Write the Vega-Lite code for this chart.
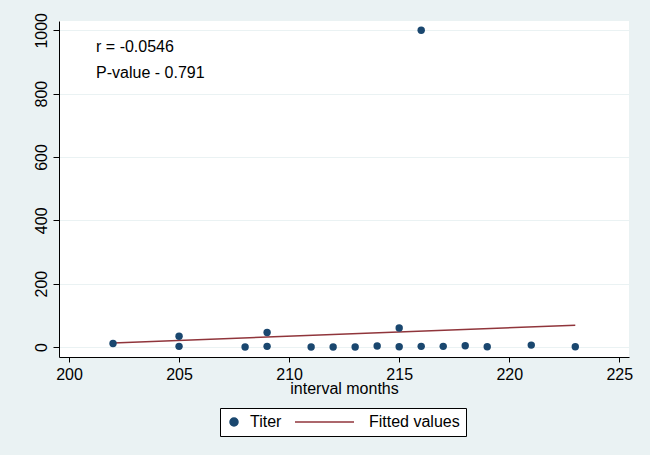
{
  "$schema": "https://vega.github.io/schema/vega-lite/v6.json",
  "width": 570,
  "height": 336,
  "autosize": {"type": "none"},
  "padding": {"left": 59, "top": 21, "right": 21, "bottom": 98},
  "background": "#eaf2f3",
  "config": {
    "font": "Liberation Sans",
    "view": {"fill": "white", "stroke": null}
  },
  "datasets": {
    "titer": [
      {"months": 202, "titer": 11, "series": "Titer"},
      {"months": 205, "titer": 34, "series": "Titer"},
      {"months": 205, "titer": 2, "series": "Titer"},
      {"months": 208, "titer": 0, "series": "Titer"},
      {"months": 209, "titer": 46, "series": "Titer"},
      {"months": 209, "titer": 2, "series": "Titer"},
      {"months": 211, "titer": 0, "series": "Titer"},
      {"months": 212, "titer": 0, "series": "Titer"},
      {"months": 213, "titer": 0, "series": "Titer"},
      {"months": 214, "titer": 3, "series": "Titer"},
      {"months": 215, "titer": 60, "series": "Titer"},
      {"months": 215, "titer": 1, "series": "Titer"},
      {"months": 216, "titer": 1000, "series": "Titer"},
      {"months": 216, "titer": 2, "series": "Titer"},
      {"months": 217, "titer": 2, "series": "Titer"},
      {"months": 218, "titer": 4, "series": "Titer"},
      {"months": 219, "titer": 1, "series": "Titer"},
      {"months": 221, "titer": 6, "series": "Titer"},
      {"months": 223, "titer": 1, "series": "Titer"}
    ],
    "fit": [
      {"months": 202, "titer": 13, "series": "Fitted values"},
      {"months": 223, "titer": 69, "series": "Fitted values"}
    ],
    "notes": [
      {"months": 201.23, "titer": 946, "label": "r = -0.0546"},
      {"months": 201.23, "titer": 864, "label": "P-value - 0.791"}
    ]
  },
  "encoding": {
    "x": {
      "field": "months",
      "type": "quantitative",
      "scale": {"domain": [199.546, 225.44], "nice": false, "zero": false},
      "axis": {
        "values": [200, 205, 210, 215, 220, 225],
        "format": "d",
        "title": "interval months",
        "grid": false,
        "domainColor": "#000000",
        "tickColor": "#000000",
        "tickSize": 5,
        "labelFontSize": 16,
        "labelColor": "#000000",
        "labelPadding": 4,
        "labelFlush": false,
        "titleFontSize": 16,
        "titleFontWeight": "normal",
        "titleColor": "#000000",
        "titlePadding": -2
      }
    },
    "y": {
      "field": "titer",
      "type": "quantitative",
      "scale": {"domain": [-31.6, 1029.4], "nice": false, "zero": false},
      "axis": {
        "values": [0, 200, 400, 600, 800, 1000],
        "format": "d",
        "title": null,
        "grid": true,
        "gridColor": "#eaf2f3",
        "gridWidth": 1,
        "domainColor": "#000000",
        "tickColor": "#000000",
        "tickSize": 6,
        "labelFontSize": 16,
        "labelColor": "#000000",
        "labelAngle": -90,
        "labelAlign": "center",
        "labelBaseline": "bottom",
        "labelPadding": 4,
        "labelFlush": false
      }
    }
  },
  "layer": [
    {
      "data": {"name": "fit"},
      "mark": {"type": "line", "strokeWidth": 1.5},
      "encoding": {
        "color": {
          "field": "series",
          "type": "nominal",
          "scale": {"domain": ["Titer", "Fitted values"], "range": ["#1a476f", "#90353b"]},
          "legend": {
            "title": null,
            "orient": "none",
            "legendX": 161,
            "legendY": 387,
            "direction": "horizontal",
            "strokeColor": "#000000",
            "fillColor": "#ffffff",
            "padding": 6,
            "labelFontSize": 16,
            "labelColor": "#000000",
            "labelOffset": 8,
            "columnPadding": 10,
            "symbolSize": 64,
            "symbolStrokeWidth": 1.5,
            "encode": {
              "symbols": {"update": {"stroke": {"scale": "color", "field": "value"}, "strokeWidth": {"value": 1.5}}}
            }
          }
        }
      }
    },
    {
      "data": {"name": "titer"},
      "mark": {"type": "point", "filled": true, "size": 55, "opacity": 1},
      "encoding": {
        "color": {"field": "series", "type": "nominal"},
        "shape": {
          "field": "series",
          "type": "nominal",
          "scale": {"domain": ["Titer", "Fitted values"], "range": ["circle", "M-14.5,0L0.25,0"]}
        }
      }
    },
    {
      "data": {"name": "notes"},
      "mark": {"type": "text", "align": "left", "baseline": "middle", "fontSize": 16, "color": "#000000"},
      "encoding": {"text": {"field": "label"}}
    }
  ]
}
